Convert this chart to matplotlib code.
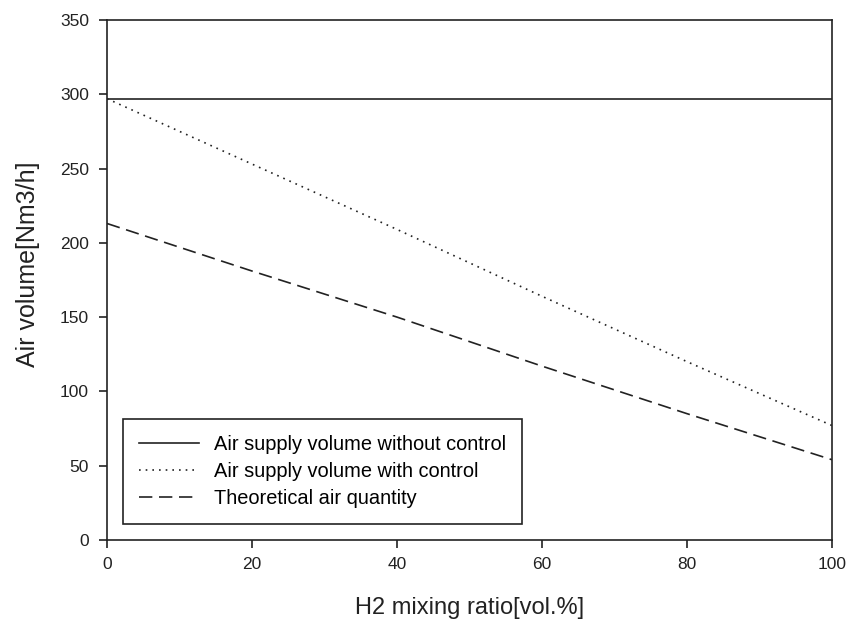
import matplotlib.pyplot as plt

plt.rcParams['font.family'] = ['Liberation Sans', 'DejaVu Sans']

h2_ratio = [0, 20, 40, 60, 80, 100]
no_control = [297, 297, 297, 297, 297, 297]
with_control = [297, 253, 209, 164, 120, 77]
theoretical = [213, 181, 150, 117, 85, 54]

fig = plt.figure(figsize=(8.46, 6.27), dpi=100)
ax = fig.add_axes([0.1265, 0.1388, 0.857, 0.8294])

ax.plot(h2_ratio, no_control, color='#222222', lw=1.2, label='Air supply volume without control')
ax.plot(h2_ratio, with_control, color='#222222', lw=1.2, linestyle=(0, (1, 3)),
        label='Air supply volume with control')
ax.plot(h2_ratio, theoretical, color='#222222', lw=1.2, linestyle=(0, (8, 4)),
        label='Theoretical air quantity')

ax.set_xlim(0, 100)
ax.set_ylim(0, 350)
ax.set_xticks(range(0, 101, 20))
ax.set_yticks(range(0, 351, 50))
ax.tick_params(direction='out', length=6, labelsize=12.5, colors='#222222', width=1.2)
ax.tick_params(axis='y', pad=7)
ax.tick_params(axis='x', pad=6)
for s in ax.spines.values():
    s.set_linewidth(1.2)
    s.set_color('#222222')

ax.set_xlabel('H2 mixing ratio[vol.%]', fontsize=17, labelpad=18, color='#222222')
ax.set_ylabel('Air volume[Nm3/h]', fontsize=18, color='#222222')
ax.yaxis.set_label_coords(-0.092, 0.53)

leg = ax.legend(loc='lower left', bbox_to_anchor=(0.022, 0.031), borderaxespad=0,
                fontsize=14.4, fancybox=False, edgecolor='#222222', framealpha=1,
                handlelength=3.0, handletextpad=0.75, borderpad=0.8, labelspacing=0.4)
leg.get_frame().set_linewidth(1.2)

fig.savefig('out.png', dpi=100)
